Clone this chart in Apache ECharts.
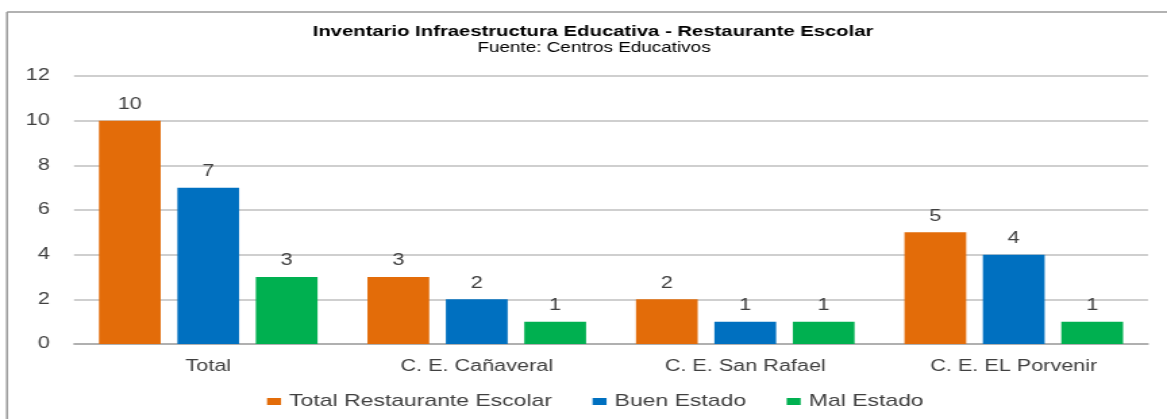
<!DOCTYPE html>
<html><head><meta charset="utf-8">
<script src="https://cdn.jsdelivr.net/npm/echarts@6/dist/echarts.min.js"></script>
<style>html,body{margin:0;padding:0;background:#fff;overflow:hidden}#c{width:864px;height:419px;transform:scaleX(1.350694);transform-origin:0 0}</style>
</head><body><div id="c"></div>
<script>
const categories = ['Total', 'C. E. Cañaveral', 'C. E. San Rafael', 'C. E. EL Porvenir'];
const totalRestaurante = [10, 3, 2, 5];
const buenEstado = [7, 2, 1, 4];
const malEstado = [3, 1, 1, 1];
const yTicks = [0, 2, 4, 6, 8, 10, 12];
const seriesNames = ['Total Restaurante Escolar', 'Buen Estado', 'Mal Estado'];
const titleText = 'Inventario Infraestructura Educativa - Restaurante Escolar';
const subtitleText = 'Fuente: Centros Educativos';
const colors = ['#E36C09', '#0070C0', '#00B050'];

const S = 1.350694; // horizontal stretch of the reference picture
const FF = 'Liberation Sans, Arial, sans-serif';
const chart = echarts.init(document.getElementById('c'), null, {renderer: 'canvas'});
const lbl = {show: true, position: 'top', distance: 8, color: '#404040', fontFamily: FF, fontSize: 16};
function mk(name, data, i) {
  return {name, type: 'bar', data, itemStyle: {color: colors[i]}, label: lbl,
    barWidth: '23%', barGap: '27%', barCategoryGap: '18%'};
}
chart.setOption({
  animation: false,
  backgroundColor: '#fff',
  graphic: [
    {type: 'line', shape: {x1: 7 / S, y1: 12, x2: 1167 / S, y2: 12}, style: {stroke: '#999', lineWidth: 1.5}},
    {type: 'line', shape: {x1: 7 / S, y1: 12, x2: 7 / S, y2: 419}, style: {stroke: '#999', lineWidth: 1.5}},
    {type: 'text', x: 593 / S, y: 24, style: {text: titleText, textAlign: 'center', fill: '#000',
      font: 'bold 15px ' + FF}},
    {type: 'text', x: 594 / S, y: 41, style: {text: subtitleText, textAlign: 'center', fill: '#000',
      font: '14px ' + FF}}
  ],
  legend: {
    data: seriesNames, bottom: 9, left: 267 / S, padding: 0, itemWidth: 14 / S, itemHeight: 7, itemGap: 30,
    icon: 'rect',
    textStyle: {fontFamily: FF, fontSize: 17, color: '#404040', padding: [0, 0, 0, 1]}
  },
  grid: {left: 74 / S, right: 19 / S, top: 76, bottom: 75, containLabel: false},
  xAxis: {
    type: 'category', data: categories,
    axisLine: {lineStyle: {color: '#A6A6A6', width: 1.5}},
    axisTick: {show: false},
    axisLabel: {color: '#404040', fontFamily: FF, fontSize: 16, margin: 15}
  },
  yAxis: {
    type: 'value', min: yTicks[0], max: yTicks[yTicks.length - 1], interval: yTicks[1] - yTicks[0],
    axisLine: {show: false}, axisTick: {show: false},
    splitLine: {lineStyle: {color: '#BFBFBF', width: 1.5}},
    axisLabel: {color: '#404040', fontFamily: FF, fontSize: 16, margin: 18}
  },
  series: [mk(seriesNames[0], totalRestaurante, 0), mk(seriesNames[1], buenEstado, 1), mk(seriesNames[2], malEstado, 2)]
});
</script></body></html>
